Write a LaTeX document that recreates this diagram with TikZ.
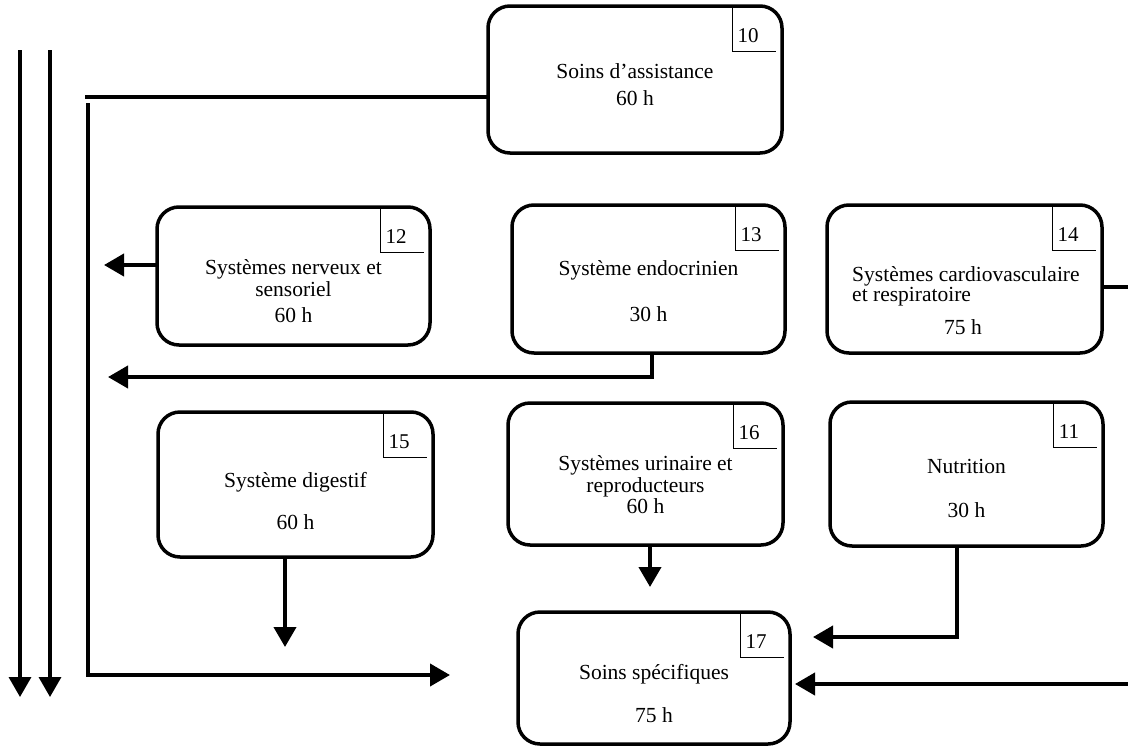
\documentclass[tikz,border=0pt]{standalone}
\usepackage{fontspec}
\setmainfont{Liberation Serif}
\usetikzlibrary{arrows.meta,calc}
\begin{document}
\begin{tikzpicture}[x=1pt,y=-1pt,
 box/.style={draw, line width=3.5pt, rounded corners=22pt, outer sep=0pt, inner sep=0pt},
 lbl/.style={font=\fontsize{21.5}{24}\selectfont, inner sep=0pt, text height=14pt, text depth=4.5pt},
 numlbl/.style={font=\fontsize{21}{24}\selectfont, inner sep=0pt},
 con/.style={line width=4pt},
 arr/.style={line width=4pt, -{Triangle[length=20pt,width=22pt]}},
 numline/.style={line width=1pt}]
\useasboundingbox (0,0) rectangle (1128,753);

% boxes
\node[box, minimum width=294pt, minimum height=147pt] (b10) at (635,79.5) {};
\node[box, minimum width=273pt, minimum height=138pt] (b12) at (293.5,276) {};
\node[box, minimum width=273pt, minimum height=148pt] (b13) at (648.5,279) {};
\node[box, minimum width=275pt, minimum height=148pt] (b14) at (964.5,279) {};
\node[box, minimum width=275pt, minimum height=145pt] (b15) at (295.5,484.5) {};
\node[box, minimum width=275pt, minimum height=142pt] (b16) at (645.5,474) {};
\node[box, minimum width=273pt, minimum height=144pt] (b11) at (966.5,474) {};
\node[box, minimum width=272pt, minimum height=132pt] (b17) at (654,678) {};

% number tabs
\foreach \n/\t in {b10/10,b12/12,b13/13,b14/14,b15/15,b16/16,b17/17,b11/11}{
  \draw[numline] ($(\n.north east)+(-50,0)$) -- ++(0,45) -- ++(44,0);
  \node[numlbl] (\n num) at ($(\n.north east)+(-34,30)$) {\t};
}

% texts
\node[lbl] (t10a) at (635,74) {Soins d’assistance};
\node[lbl] (t10b) at (635,101) {60 h};
\node[lbl] (t12a) at (293.5,270) {Systèmes nerveux et};
\node[lbl] (t12b) at (293.5,292) {sensoriel};
\node[lbl] (t12c) at (293.5,318) {60 h};
\node[lbl] (t13a) at (648.5,271) {Système endocrinien};
\node[lbl] (t13b) at (648.5,317) {30 h};
\node[lbl, anchor=west] (t14a) at (852,277) {Systèmes cardiovasculaire};
\node[lbl, anchor=west] (t14b) at (852,297) {et respiratoire};
\node[lbl] (t14c) at (963,330) {75 h};
\node[lbl] (t15a) at (295.5,483) {Système digestif};
\node[lbl] (t15b) at (295.5,525) {60 h};
\node[lbl] (t16a) at (645.5,466) {Systèmes urinaire et};
\node[lbl] (t16b) at (645.5,488) {reproducteurs};
\node[lbl] (t16c) at (645.5,509) {60 h};
\node[lbl] (t11a) at (966.5,469) {Nutrition};
\node[lbl] (t11b) at (966.5,513) {30 h};
\node[lbl] (t17a) at (654,675) {Soins spécifiques};
\node[lbl] (t17b) at (654,718) {75 h};

% free ends
\coordinate (l1top) at (20,50);
\coordinate (l1bot) at (20,697);
\coordinate (l2top) at (50,50);
\coordinate (l2bot) at (50,697);
\coordinate (h10end) at (85,97);
\coordinate (vtop) at (88,103);
\coordinate (vbot) at (88,675);
\coordinate (vend) at (450,675);
\coordinate (e12) at (104,265);
\coordinate (e13) at (108,377);
\coordinate (e14) at (1128,287);
\coordinate (e15) at (285,647);
\coordinate (e16) at (650,587);
\coordinate (e11) at (813,637);
\coordinate (r17) at (1128,684);

% connectors
\draw[arr, line width=3.5pt] (l1top) -- (l1bot);
\draw[arr, line width=3.5pt] (l2top) -- (l2bot);
\draw[con] (b10.west |- h10end) -- (h10end);
\draw[arr] (vtop) -- (vbot) -- (vend);
\draw[arr] (b12.west |- e12) -- (e12);
\draw[arr] (b13.south -| 652,0) |- (e13);
\draw[con] (b14.east |- e14) -- (e14);
\draw[arr] (b15.south -| e15) -- (e15);
\draw[arr] (b16.south -| e16) -- (e16);
\draw[arr] (b11.south -| 957,0) |- (e11);
\draw[arr] (r17) -- ([xshift=5pt]b17.east |- r17);
\end{tikzpicture}
\end{document}
